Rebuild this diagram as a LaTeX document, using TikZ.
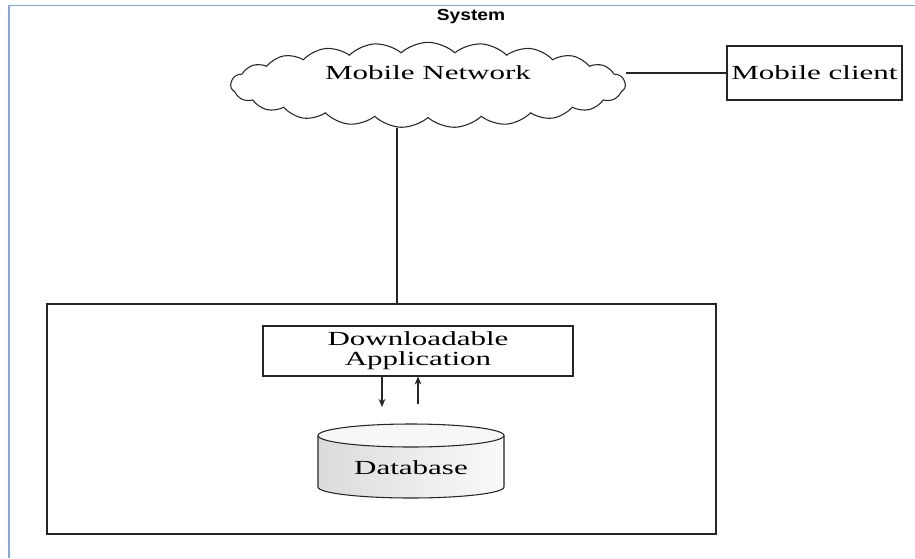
\documentclass[tikz,border=0pt]{standalone}
\usepackage{fontspec}
\setmainfont{Liberation Serif}
\newfontfamily\widerm[FakeStretch=1.55]{Liberation Serif}
\newfontfamily\widesf[FakeStretch=1.2]{Liberation Sans}
\usetikzlibrary{shapes.symbols,arrows.meta}
\definecolor{framecol}{RGB}{130,168,230}
\tikzset{
  ln/.style={draw=black!85, line width=0.8pt},
  boxnode/.style={ln, rectangle, inner sep=0pt},
  txt/.style={font=\fontsize{15}{15}\widerm\selectfont, text=black, align=center},
  arr/.style={ln, -{Stealth[length=6pt,width=5pt]}},
}
\begin{document}
\begin{tikzpicture}[x=0.75pt,y=-0.75pt]
\useasboundingbox (0,0) rectangle (915,558);

% page frame
\draw[framecol, line width=1pt] (915,5.5) -- (9,5.5) -- (9,558);

% title
\node[font=\fontsize{12}{14}\widesf\bfseries, text=black] (title) at (471,17) {System};

% mobile network cloud
\node[cloud, ln, cloud puffs=23, cloud puff arc=85, cloud ignores aspect,
      minimum width=296pt, minimum height=64pt, inner sep=0pt,
      label={[txt, yshift=9.5pt]center:Mobile Network}] (net) at (428,85) {};

% mobile client
\node[boxnode, txt, minimum width=131.25pt, minimum height=40.5pt] (client) at (814.5,73) {Mobile client};

% system box
\node[boxnode, minimum width=501.75pt, minimum height=172.5pt] (sys) at (381.5,419) {};

% application box
\node[boxnode, txt, minimum width=232.5pt, minimum height=37.5pt] (app) at (418,351) {Downloadable\\Application};

% database cylinder
\path[left color=black!14, right color=black!2]
  (318,435.5) -- (318,487) arc[start angle=180,end angle=0,x radius=93,y radius=11]
  -- (504,435.5) arc[start angle=0,end angle=-180,x radius=93,y radius=11.5] -- cycle;
\draw[ln]
  (318,435.5) -- (318,487) arc[start angle=180,end angle=0,x radius=93,y radius=11]
  -- (504,435.5);
\draw[ln, fill=black!3] (411,435.5) ellipse[x radius=93, y radius=11.5];
\node[txt] (db) at (411,468) {Database};

% connectors
\draw[ln] (client.west) -- (client.west -| net.east);
\coordinate (drop) at (397,127.5);
\draw[ln] (drop) -- (drop |- sys.north);

\coordinate (dnEnd) at (382,407);
\coordinate (upStart) at (418,404);
\draw[arr] (app.south -| dnEnd) -- (dnEnd);
\draw[arr] (upStart) -- (upStart |- app.south);
\end{tikzpicture}
\end{document}
